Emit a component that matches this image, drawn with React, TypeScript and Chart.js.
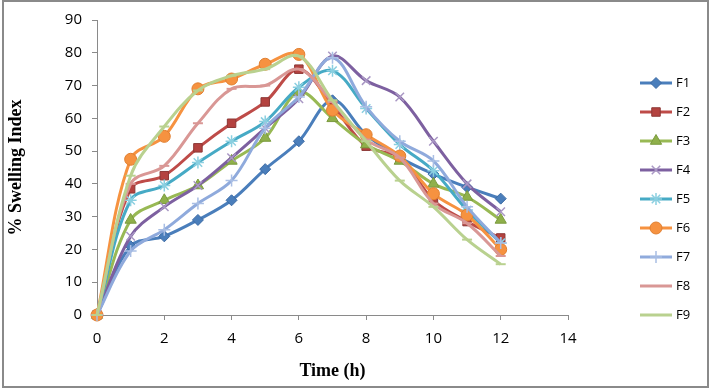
import React, { useEffect, useRef } from 'react';
import { Chart, registerables } from 'chart.js';
import { drawPoint } from 'chart.js/helpers';

Chart.register(...registerables);

const times = [0, 1, 2, 3, 4, 5, 6, 7, 8, 9, 10, 11, 12];
const seriesNames = ['F1', 'F2', 'F3', 'F4', 'F5', 'F6', 'F7', 'F8', 'F9'];

const f1 = [0, 21, 24, 29, 35, 44.5, 53, 65.5, 55, 48, 43, 39, 35.5];
const f2 = [0, 38.5, 42.5, 51, 58.5, 65, 75, 64, 51.5, 48, 35, 28.5, 23.5];
const f3 = [0, 29, 35, 39.5, 47, 54, 68, 60, 52, 47, 40, 36, 29];
const f4 = [0, 24, 33, 39.5, 48, 57, 66, 79, 71.5, 66.5, 53, 40, 31.5];
const f5 = [0, 35, 39.5, 46.5, 53, 59, 69.5, 74.5, 63, 52, 44, 32, 22];
const f6 = [0, 47.5, 54.5, 69, 72, 76.5, 79.5, 62.5, 55, 48.5, 37, 30.5, 20];
const f7 = [0, 19.5, 26, 34, 41, 57, 66.5, 78.5, 63.5, 53, 47, 33, 22];
const f8 = [0, 40, 45.5, 58.5, 69, 70, 75, 65, 53.5, 48, 34, 28, 18];
const f9 = [0, 42.5, 57.5, 68.5, 73, 75, 79, 65.5, 53, 41, 33, 23, 15.5];

const seriesValues = [f1, f2, f3, f4, f5, f6, f7, f8, f9];

const xMin = 0;
const xMax = 14;
const xStep = 2;
const yMin = 0;
const yMax = 90;
const yStep = 10;

const xTitle = 'Time (h)';
const yTitle = '% Swelling Index';

// styles
const lineColors = ['#4A7EBB', '#BE4B48', '#98B954', '#7D60A0', '#46AAC5', '#F69240', '#8FAADC', '#D99795', '#B9D18F'];
const markerFill = ['#4A7EBB', '#B4423F', '#8FB04A', '#A997C4', '#8ACFE0', '#F69240', '#A9BEE4', '#D99795', '#B9D18F'];
const markerStroke = ['#3C6AA3', '#8C3836', '#7A9A3E', '#A997C4', '#8ACFE0', '#E07F30', '#A9BEE4', '#D99795', '#B9D18F'];
const markerStyles = ['rectRot', 'rect', 'triangle', 'crossRot', 'star', 'circle', 'cross', 'line', 'line'];
const markerRadius = [5.5, 6, 6.5, 6, 6, 6, 6, 5, 5];
const markerBorder = [1, 1, 1, 1.5, 1.5, 1, 1.5, 2, 2];

const legendPlugin = {
  id: 'sideLegend',
  afterDraw(chart: any) {
    const ctx = chart.ctx;
    ctx.save();
    const x0 = 640;
    const x1 = 672;
    const y0 = 83;
    const gap = 29;
    chart.data.datasets.forEach((ds: any, i: number) => {
      const y = y0 + gap * i;
      ctx.strokeStyle = ds.borderColor;
      ctx.lineWidth = 3;
      ctx.beginPath();
      ctx.moveTo(x0, y);
      ctx.lineTo(x1, y);
      ctx.stroke();
      ctx.fillStyle = ds.pointBackgroundColor;
      ctx.strokeStyle = ds.pointBorderColor;
      ctx.lineWidth = ds.pointBorderWidth;
      drawPoint(ctx, { pointStyle: ds.pointStyle, radius: ds.pointRadius, borderWidth: ds.pointBorderWidth, rotation: 0 }, (x0 + x1) / 2, y);
      ctx.fillStyle = '#000';
      ctx.font = '13px "Open Sans"';
      ctx.textBaseline = 'middle';
      ctx.textAlign = 'left';
      ctx.fillText(ds.label, x1 + 4, y);
    });
    ctx.restore();
  },
};

const borderPlugin = {
  id: 'outerBorder',
  afterDraw(chart: any) {
    const ctx = chart.ctx;
    ctx.save();
    ctx.strokeStyle = '#8a8a8a';
    ctx.lineWidth = 2;
    ctx.strokeRect(3, 1, chart.width - 6, chart.height - 4);
    ctx.restore();
  },
};

export default function App() {
  const ref = useRef<HTMLCanvasElement | null>(null);
  useEffect(() => {
    if (!ref.current) return;
    const tickFont = { family: '"Open Sans"', size: 15 };
    const titleFont = { family: '"Liberation Serif"', size: 18, weight: 'bold' as const };
    const chart = new Chart(ref.current, {
      type: 'line',
      data: {
        datasets: seriesValues.map((vals, i) => ({
          label: seriesNames[i],
          data: times.map((t, j) => ({ x: t, y: vals[j] })),
          borderColor: lineColors[i],
          backgroundColor: lineColors[i],
          borderWidth: 3,
          tension: 0.35,
          clip: false as any,
          pointStyle: markerStyles[i] as any,
          pointRadius: markerRadius[i],
          pointBackgroundColor: markerFill[i],
          pointBorderColor: markerStroke[i],
          pointBorderWidth: markerBorder[i],
          order: seriesValues.length - 1 - i,
        })),
      },
      options: {
        animation: false,
        responsive: false,
        devicePixelRatio: 1,
        layout: { padding: { left: 0, right: 143, top: 20, bottom: 0 } },
        plugins: { legend: { display: false }, tooltip: { enabled: false } },
        scales: {
          x: {
            type: 'linear',
            min: xMin,
            max: xMax,
            ticks: { stepSize: xStep, padding: 10, font: tickFont, color: '#000' },
            grid: { display: true, drawOnChartArea: false, drawTicks: true, tickLength: 5, color: '#8a8a8a' },
            border: { color: '#8a8a8a', width: 1 },
            title: { display: true, text: xTitle, font: titleFont, color: '#000', padding: { top: 0, bottom: 8 } },
            afterFit: (s: any) => { s.height = 75; },
          },
          y: {
            type: 'linear',
            min: yMin,
            max: yMax,
            ticks: { stepSize: yStep, padding: 10, font: tickFont, color: '#000' },
            grid: { display: true, drawOnChartArea: false, drawTicks: true, tickLength: 5, color: '#8a8a8a' },
            border: { color: '#8a8a8a', width: 1 },
            title: { display: true, text: yTitle, font: titleFont, color: '#000', padding: { top: 6, bottom: 0 } },
            afterFit: (s: any) => { s.width = 97; },
          },
        },
      },
      plugins: [legendPlugin, borderPlugin],
    });
    return () => chart.destroy();
  }, []);
  return (
    <div style={{ position: 'absolute', left: 0, top: 0, width: 711, height: 390, background: '#fff' }}>
      <canvas ref={ref} width={711} height={390} style={{ display: 'block', width: 711, height: 390 }} />
    </div>
  );
}
